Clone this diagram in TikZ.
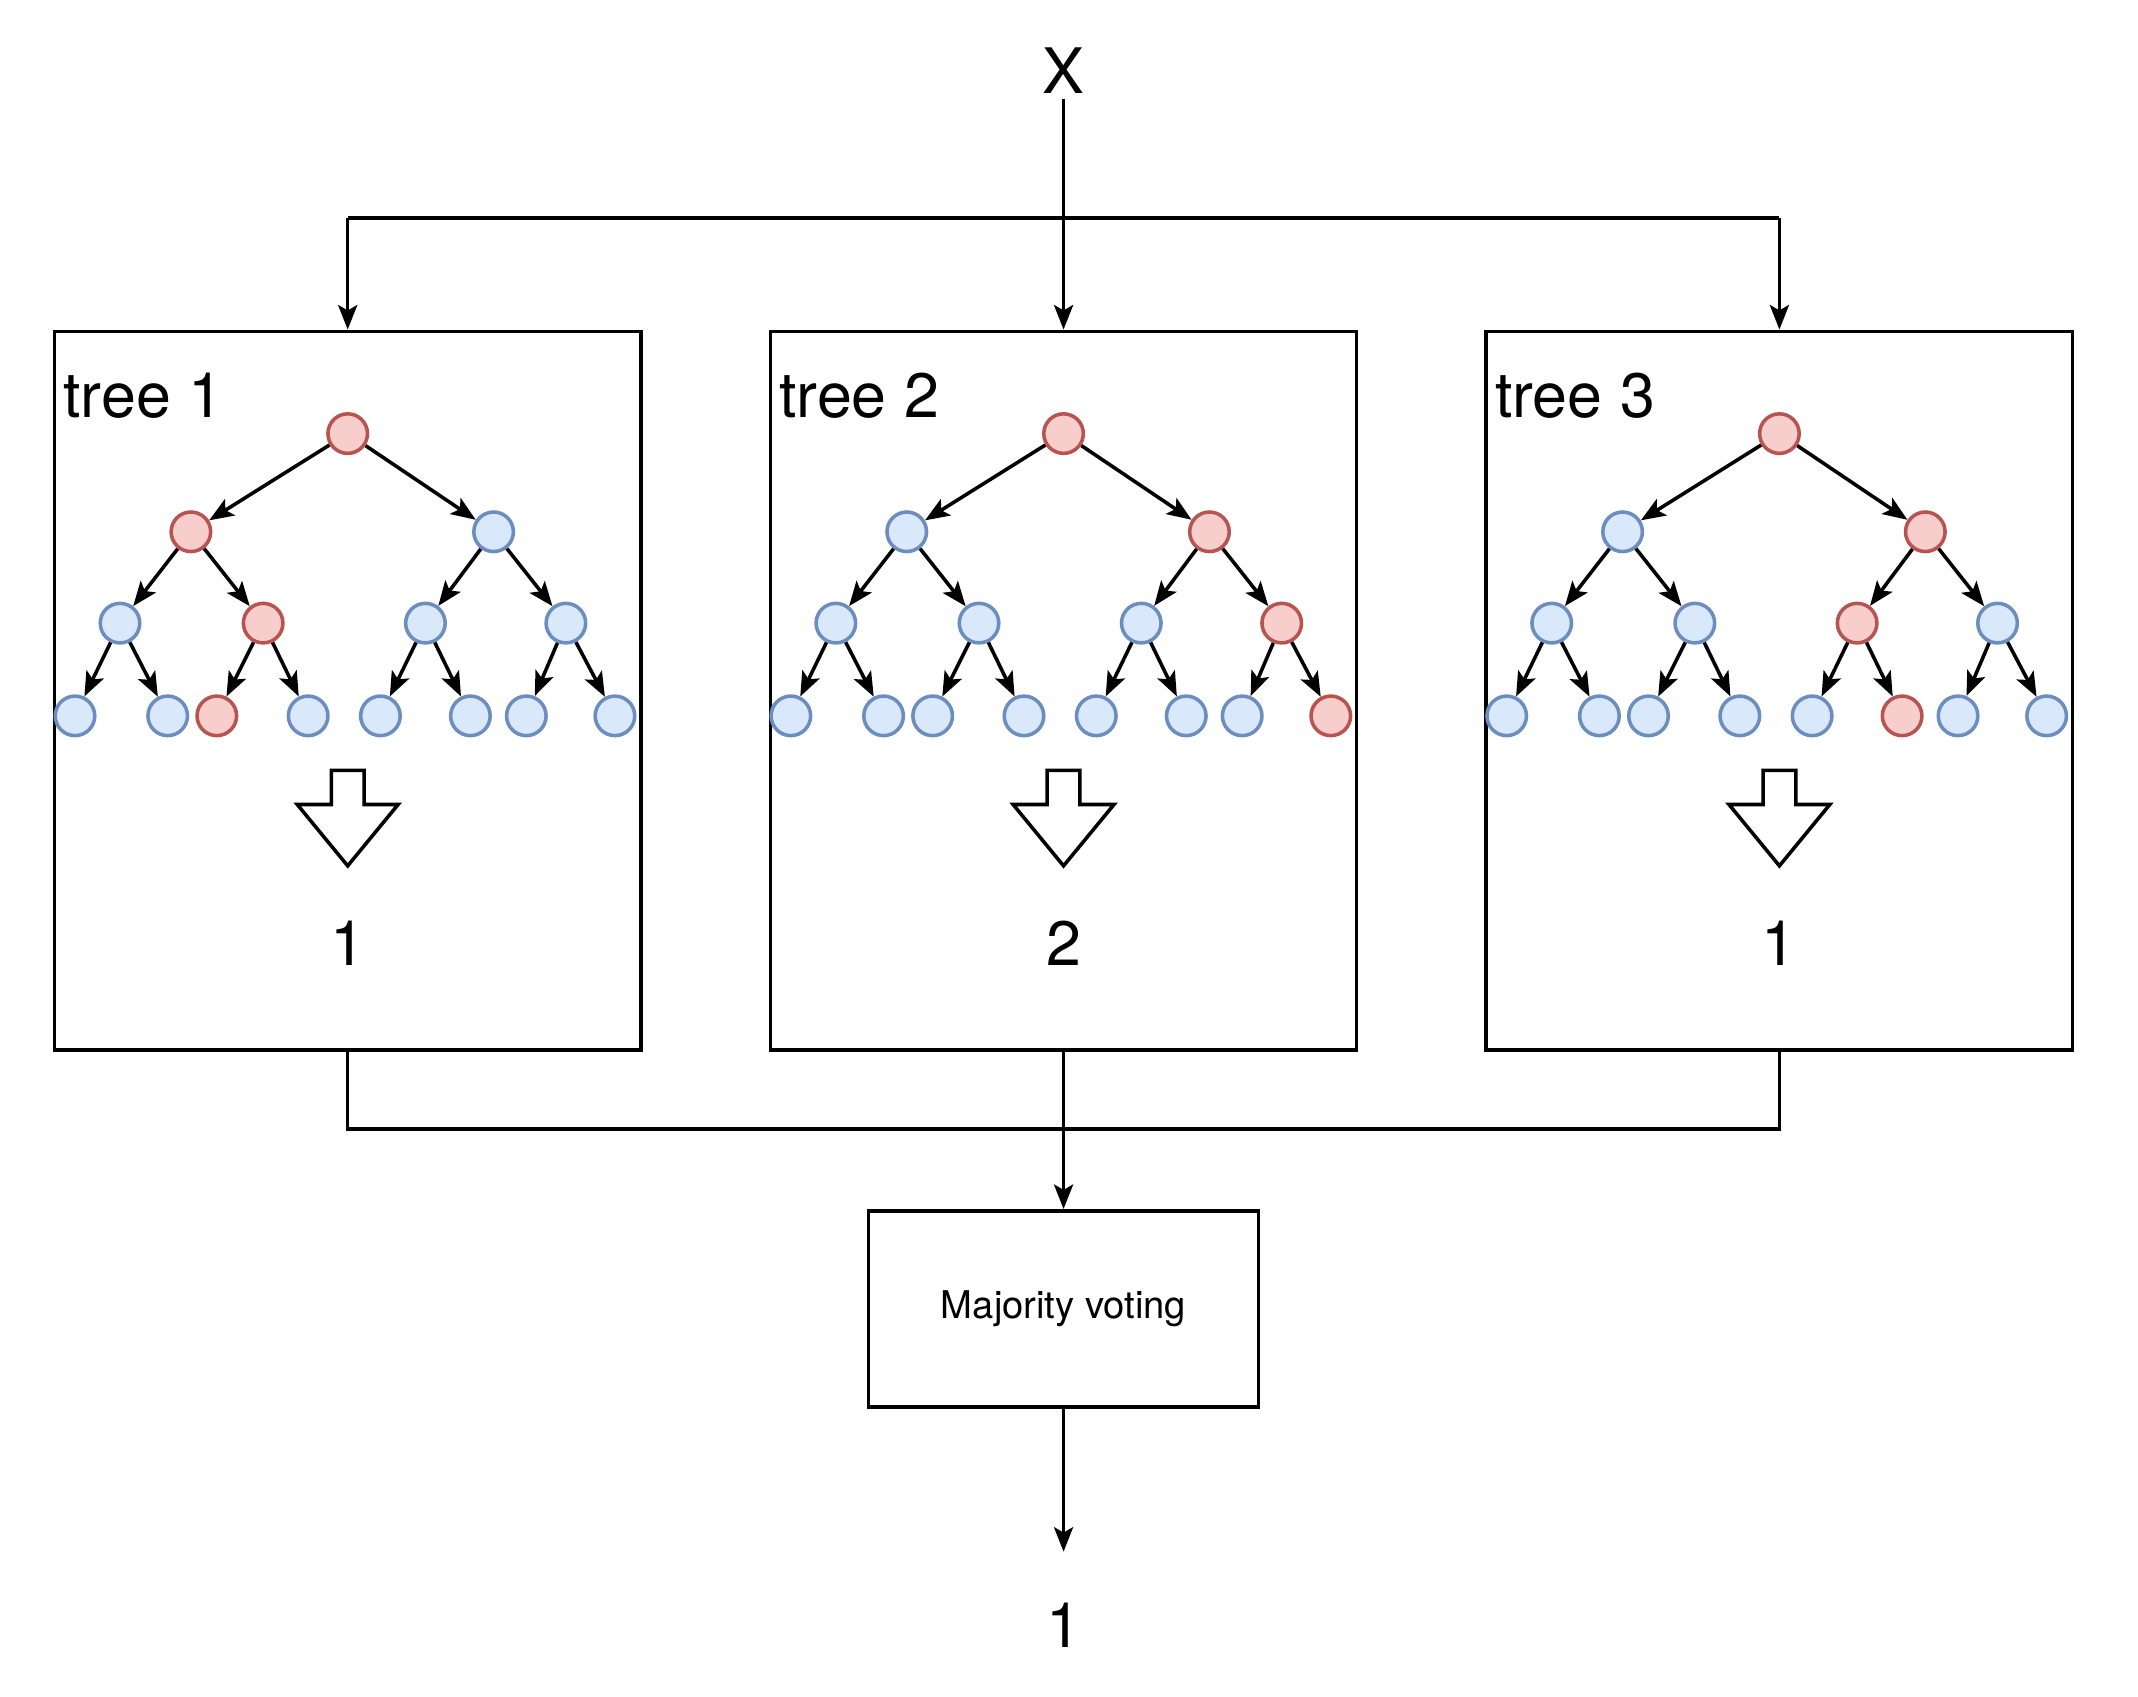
\documentclass[tikz,border=0pt]{standalone}
\usepackage{fontspec}
\setmainfont{TeX Gyre Heros}
\usetikzlibrary{arrows.meta}
\definecolor{rf}{HTML}{F8CECC}\definecolor{rd}{HTML}{B85450}
\definecolor{bf}{HTML}{DAE8FC}\definecolor{bd}{HTML}{6C8EBF}
\begin{document}
\begin{tikzpicture}[x=1pt,y=-1pt,
  ln/.style={line width=2.6pt},
  arr/.style={ln,-{Stealth[length=18pt,width=14pt,inset=4pt]}},
  rn/.style={circle,draw=rd,fill=rf,line width=2.6pt,minimum size=29pt,inner sep=0pt},
  bn/.style={circle,draw=bd,fill=bf,line width=2.6pt,minimum size=29pt,inner sep=0pt},
  box/.style={draw,ln,minimum width=430pt,minimum height=527pt,inner sep=0pt},
  big/.style={font=\fontsize{46}{52}\selectfont}]
\useasboundingbox (0,0) rectangle (1568,1244);
\node[big] (X) at (780,52) {X};
\coordinate (jl) at (255,160);\coordinate (jr) at (1305,160);\coordinate (jm) at (780,160);
\foreach \b/\bx/\ra/\rb/\rc/\num in {1/40/1/2/3/1,2/565/2/4/8/2,3/1090/2/3/6/1}{
  \node[box] (box\b) at (\bx+215,506.5) {};
  \node[anchor=west,font=\fontsize{46}{52}\selectfont] (lab\b) at (\bx+3,290) {tree \b};
  \node[rn] (r\b) at (\bx+215,318) {};
  \foreach \j/\o in {1/100,2/322}{\edef\st{\ifnum\j=\ra rn\else bn\fi}\node[\st] (a\b-\j) at (\bx+\o,390) {};}
  \foreach \j/\o in {1/48,2/153,3/272,4/375}{\edef\st{\ifnum\j=\rb rn\else bn\fi}\node[\st] (c\b-\j) at (\bx+\o,457) {};}
  \foreach \j/\o in {1/15,2/83,3/119,4/186,5/239,6/305,7/346,8/411}{\edef\st{\ifnum\j=\rc rn\else bn\fi}\node[\st] (d\b-\j) at (\bx+\o,525) {};}
  \draw[arr] (r\b) -- (a\b-1); \draw[arr] (r\b) -- (a\b-2);
  \foreach \j in {1,2}{\pgfmathtruncatemacro\p{2*\j-1}\pgfmathtruncatemacro\q{2*\j}
    \draw[arr] (a\b-\j) -- (c\b-\p); \draw[arr] (a\b-\j) -- (c\b-\q);}
  \foreach \j in {1,...,4}{\pgfmathtruncatemacro\p{2*\j-1}\pgfmathtruncatemacro\q{2*\j}
    \draw[arr] (c\b-\j) -- (d\b-\p); \draw[arr] (c\b-\j) -- (d\b-\q);}
  \draw[ln,fill=white] (\bx+203,565) -- (\bx+227,565) -- (\bx+227,590) -- (\bx+252,590) -- (\bx+215,635) -- (\bx+178,590) -- (\bx+203,590) -- cycle;
  \node[big] (n\b) at (\bx+215,692) {\num};
}
\draw[ln] (jl) -- (jr);
\draw[arr] (X) -- (box2.north);
\draw[arr] (jl) -- (box1.north);
\draw[arr] (jr) -- (box3.north);
\node[draw,ln,minimum width=286pt,minimum height=144pt,font=\fontsize{28}{32}\selectfont] (mv) at (780,960) {Majority voting};
\coordinate (bl) at (255,828);\coordinate (br) at (1305,828);
\draw[ln] (box1.south) -- (bl) -- (br) -- (box3.south);
\draw[arr] (box2.south) -- (mv.north);
\node[big] (out) at (780,1192) {1};
\coordinate (oe) at (780,1138);
\draw[arr] (mv.south) -- (oe);
\end{tikzpicture}
\end{document}
